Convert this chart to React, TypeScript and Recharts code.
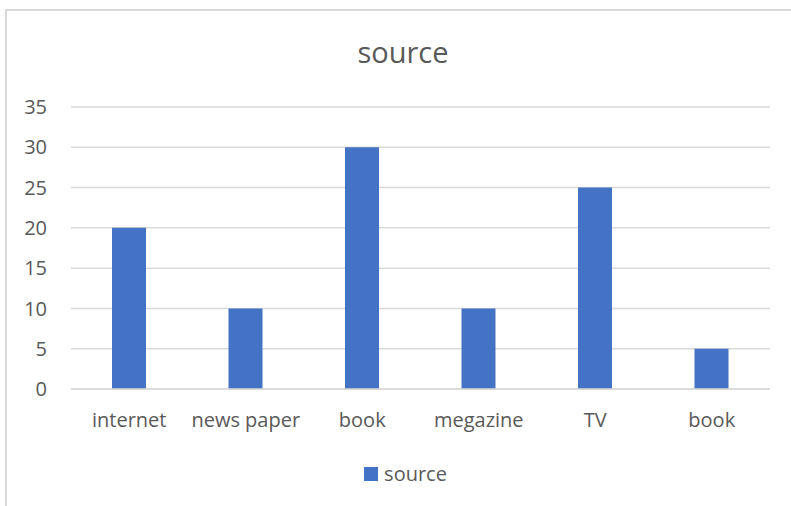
import { BarChart, Bar, XAxis, YAxis, CartesianGrid, Legend } from 'recharts';

const categories = ['internet', 'news paper', 'book', 'megazine', 'TV', 'book'];
const sourceValues = [20, 10, 30, 10, 25, 5];
const yTicks = [0, 5, 10, 15, 20, 25, 30, 35];

const BLUE = '#4472C4';
const TEXT = '#595959';
const GRID = '#D9D9D9';
const FONT = '"Open Sans", "Noto Sans", sans-serif';

const chartData = categories.map((name, i) => ({ name, source: sourceValues[i] }));

const renderLegend = () => (
  <div style={{ display: 'flex', justifyContent: 'center', alignItems: 'center', fontFamily: FONT, fontSize: 20, color: TEXT }}>
    <span style={{ width: 14, height: 14, background: BLUE, display: 'inline-block', marginRight: 6 }} />
    <span>source</span>
  </div>
);

export default function App() {
  return (
    <div style={{ position: 'absolute', left: 0, top: 0, width: 791, height: 506, background: '#fff', overflow: 'hidden' }}>
      <div style={{ position: 'absolute', left: 5, top: 9, right: -2, bottom: -2, borderLeft: `2px solid ${GRID}`, borderTop: `2px solid ${GRID}` }} />
      <div style={{ position: 'absolute', left: 0, top: 32, width: 806, textAlign: 'center', fontFamily: FONT, fontSize: 29, color: TEXT }}>
        source
      </div>
      <BarChart
        width={791}
        height={506}
        data={chartData}
        margin={{ top: 107, right: 21, bottom: 50, left: 11 }}
      >
        <CartesianGrid vertical={false} stroke={GRID} strokeWidth={1.5} />
        <XAxis
          dataKey="name"
          axisLine={{ stroke: GRID, strokeWidth: 1.5 }}
          tickLine={false}
          tickSize={0}
          tickMargin={24}
          height={40}
          interval={0}
          tick={{ fill: TEXT, fontSize: 20, fontFamily: FONT }}
        />
        <YAxis
          domain={[0, 35]}
          ticks={yTicks}
          axisLine={false}
          tickLine={false}
          tickSize={0}
          tickMargin={24}
          width={60}
          tick={{ fill: TEXT, fontSize: 20, fontFamily: FONT }}
        />
        <Legend
          content={renderLegend}
          wrapperStyle={{ position: 'absolute', top: 460, left: 0, width: 811 }}
        />
        <Bar dataKey="source" fill={BLUE} barSize={34} isAnimationActive={false} />
      </BarChart>
    </div>
  );
}
